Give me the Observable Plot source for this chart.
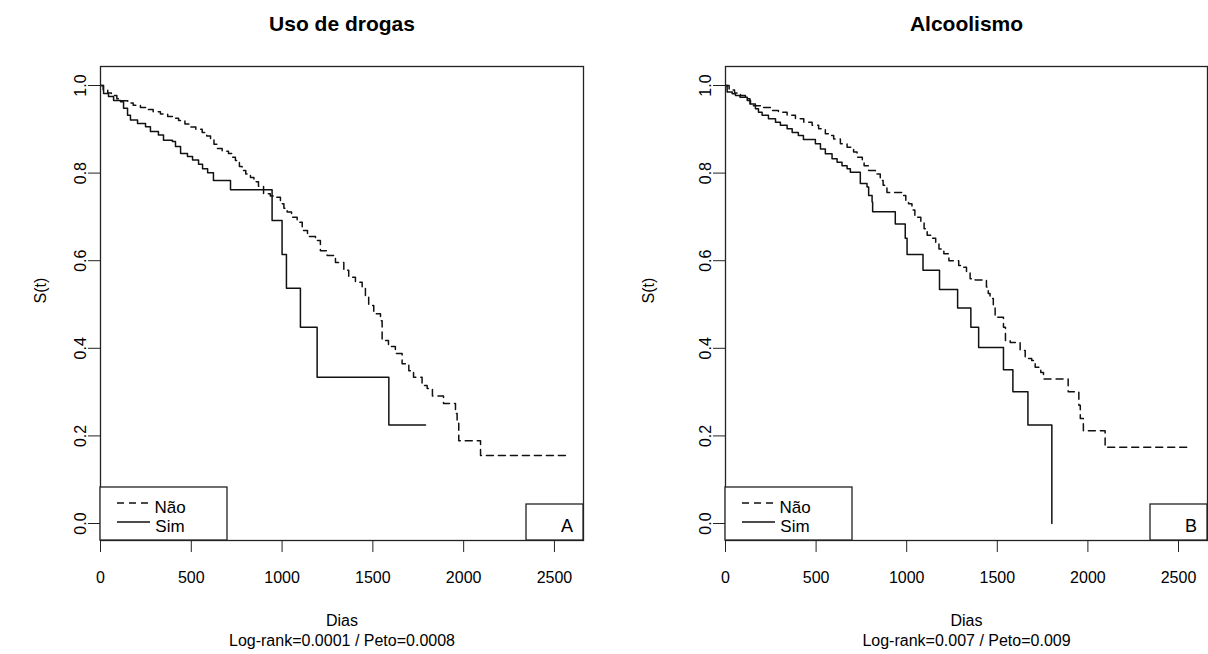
<!DOCTYPE html>
<html><head><meta charset="utf-8">
<script src="https://cdn.jsdelivr.net/npm/d3@7"></script>
<script src="https://cdn.jsdelivr.net/npm/@observablehq/plot@0.6"></script>
<style>
body{margin:0;background:#fff;}
#wrap{display:flex;width:1208px;height:654px;overflow:hidden;}
svg{display:block;}
</style></head><body><div id="wrap"></div>
<script>
const xTicks = [0, 500, 1000, 1500, 2000, 2500];
const yTicks = [0, 0.2, 0.4, 0.6, 0.8, 1.0];
const groups = ["Não", "Sim"];

const drogasNaoT = [0,15,40,60,90,115,150,180,220,260,290,330,370,400,430,465,490,525,560,585,606,625,642,670,705,725,743,765,780,800,826,845,870,898,935,964,991,1010,1028,1052,1083,1111,1140,1184,1211,1248,1294,1340,1367,1404,1441,1459,1477,1505,1542,1551,1586,1624,1661,1698,1724,1771,1799,1828,1889,1955,1964,1973,2093,2561];
const drogasNaoS = [1,0.99,0.983,0.977,0.97,0.965,0.96,0.955,0.95,0.945,0.94,0.935,0.929,0.925,0.92,0.912,0.905,0.9,0.893,0.885,0.878,0.866,0.856,0.85,0.845,0.836,0.829,0.815,0.806,0.798,0.79,0.78,0.77,0.753,0.748,0.745,0.73,0.72,0.711,0.699,0.688,0.669,0.655,0.646,0.623,0.612,0.596,0.578,0.562,0.551,0.54,0.517,0.498,0.479,0.463,0.418,0.404,0.388,0.365,0.349,0.334,0.315,0.308,0.291,0.274,0.251,0.231,0.189,0.155,0.155];
const drogasSimT = [0,17,44,72,110,127,149,165,204,248,275,319,347,396,413,441,479,507,540,562,590,622,716,945,1000,1024,1101,1193,1588,1790];
const drogasSimS = [1,0.982,0.975,0.966,0.963,0.948,0.932,0.921,0.913,0.906,0.895,0.887,0.875,0.872,0.861,0.845,0.838,0.830,0.82,0.81,0.801,0.783,0.762,0.692,0.614,0.537,0.448,0.334,0.225,0.225];

const alcoolNaoT = [0,20,50,83,110,135,154,209,248,292,340,386,432,478,514,551,579,597,634,671,707,726,755,765,790,827,854,870,891,983,995,1010,1029,1045,1057,1078,1096,1113,1133,1160,1178,1205,1233,1287,1315,1330,1350,1378,1440,1450,1460,1478,1488,1534,1545,1571,1626,1654,1690,1709,1740,1755,1891,1950,1958,1975,2095,2545];
const alcoolNaoS = [1,0.99,0.983,0.977,0.97,0.958,0.954,0.95,0.943,0.939,0.932,0.924,0.916,0.909,0.901,0.89,0.886,0.878,0.867,0.859,0.848,0.836,0.824,0.817,0.806,0.798,0.783,0.772,0.756,0.749,0.737,0.73,0.716,0.703,0.699,0.688,0.673,0.658,0.651,0.642,0.627,0.616,0.6,0.589,0.585,0.574,0.559,0.556,0.54,0.525,0.514,0.494,0.471,0.448,0.418,0.413,0.395,0.377,0.372,0.357,0.345,0.33,0.301,0.27,0.24,0.212,0.174,0.174];
const alcoolSimT = [0,9,37,55,80,120,138,165,182,202,237,276,303,340,368,402,430,496,524,551,588,616,643,671,689,744,781,790,809,812,937,992,1002,1090,1181,1281,1354,1397,1534,1586,1669,1801];
const alcoolSimS = [1,0.985,0.981,0.977,0.973,0.966,0.958,0.947,0.939,0.932,0.924,0.916,0.909,0.901,0.893,0.886,0.877,0.867,0.855,0.844,0.833,0.825,0.817,0.81,0.802,0.776,0.768,0.749,0.734,0.712,0.684,0.651,0.614,0.578,0.534,0.492,0.448,0.402,0.351,0.301,0.225,0];

const panels = [
  {title: "Uso de drogas", tag: "A", xlab: "Dias", test: "Log-rank=0.0001 / Peto=0.0008",
   nao: [drogasNaoT, drogasNaoS], sim: [drogasSimT, drogasSimS], ml: 100, mr: 21, ylabDx: -60},
  {title: "Alcoolismo", tag: "B", xlab: "Dias", test: "Log-rank=0.007 / Peto=0.009",
   nao: [alcoolNaoT, alcoolNaoS], sim: [alcoolSimT, alcoolSimS], ml: 121, mr: 1, ylabDx: -77}
];

const FONT = "'Liberation Sans', Arial, Helvetica, sans-serif";
const W = 604, H = 654, MT = 66, MB = 114;

function toRows(pair, g) {
  return pair[0].map((t, i) => ({grupo: g, t, s: pair[1][i]}));
}

for (const p of panels) {
  const nao = toRows(p.nao, groups[0]);
  const sim = toRows(p.sim, groups[1]);
  const svg = Plot.plot({
    width: W, height: H,
    marginLeft: p.ml, marginRight: p.mr, marginTop: MT, marginBottom: MB,
    style: {fontFamily: FONT, fontSize: "16px", color: "#000", background: "#fff", overflow: "visible"},
    x: {domain: [0, 2660], label: null},
    y: {domain: [-0.0388, 1.0434], label: null},
    marks: [
      Plot.axisX({ticks: xTicks, tickSize: 12, tickPadding: 19, tickFormat: d => String(d), label: null, fontSize: 16, stroke: "#222"}),
      Plot.axisY({ticks: yTicks, tickSize: 12, tickPadding: 3, tickRotate: -90, tickFormat: d => d.toFixed(1), label: null, fontSize: 16, stroke: "#222"}),
      Plot.lineY(nao, {x: "t", y: "s", curve: "step-after", stroke: "#111", strokeWidth: 1.5, strokeDasharray: "7,5"}),
      Plot.lineY(sim, {x: "t", y: "s", curve: "step-after", stroke: "#111", strokeWidth: 1.5}),
      Plot.frame({stroke: "#222", strokeWidth: 1.3}),
      Plot.text([p.title], {frameAnchor: "top", dy: -42, fontWeight: "bold", fontSize: 21, lineAnchor: "middle"}),
      Plot.text([p.xlab], {frameAnchor: "bottom", dy: 80, fontSize: 16, lineAnchor: "middle"}),
      Plot.text([p.test], {frameAnchor: "bottom", dy: 100, fontSize: 16, lineAnchor: "middle"}),
      Plot.text(["S(t)"], {frameAnchor: "left", dx: p.ylabDx, rotate: -90, fontSize: 16, lineAnchor: "middle"})
    ]
  });
  // legend (R legend "bottomleft") and panel tag (bottomright)
  const s = d3.select(svg);
  const L = p.ml, R = W - p.mr, B = H - MB;
  const lg = s.append("g").attr("font-family", FONT).attr("font-size", 17);
  lg.append("rect").attr("x", L).attr("y", B - 53).attr("width", 127).attr("height", 53)
    .attr("fill", "#fff").attr("stroke", "#222").attr("stroke-width", 1.3);
  lg.append("line").attr("x1", L + 17).attr("x2", L + 50).attr("y1", B - 37).attr("y2", B - 37)
    .attr("stroke", "#111").attr("stroke-width", 1.5).attr("stroke-dasharray", "7,5");
  lg.append("line").attr("x1", L + 17).attr("x2", L + 50).attr("y1", B - 18).attr("y2", B - 18)
    .attr("stroke", "#111").attr("stroke-width", 1.5);
  lg.append("text").attr("x", L + 70).attr("y", B - 27).text(groups[0]);
  lg.append("text").attr("x", L + 70).attr("y", B - 8.5).text(groups[1]);
  const tg = s.append("g").attr("font-family", FONT).attr("font-size", 18);
  tg.append("rect").attr("x", R - 57).attr("y", B - 36).attr("width", 57).attr("height", 36)
    .attr("fill", "#fff").attr("stroke", "#222").attr("stroke-width", 1.3);
  tg.append("text").attr("x", R - 10).attr("y", B - 8.5).attr("text-anchor", "end").text(p.tag);
  document.getElementById("wrap").appendChild(svg);
}
</script></body></html>
